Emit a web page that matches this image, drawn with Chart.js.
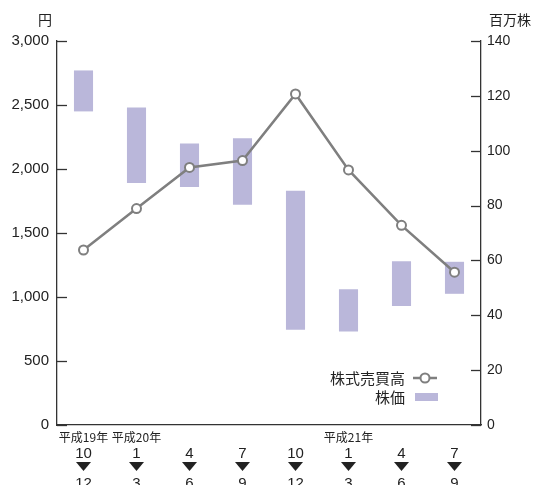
<!DOCTYPE html>
<html>
<head>
<meta charset="utf-8">
<script src="https://cdn.jsdelivr.net/npm/chart.js@4/dist/chart.umd.min.js"></script>
<style>
  html, body { margin: 0; padding: 0; background: #fff; }
  #wrap { width: 539px; height: 485px; position: relative; }
</style>
</head>
<body>
<div id="wrap"><canvas id="c" width="539" height="485"></canvas></div>
<script>
// Quarterly periods
const monthFrom = ['10', '1', '4', '7', '10', '1', '4', '7'];
const monthTo   = ['12', '3', '6', '9', '12', '3', '6', '9'];
const eraLabels = ['平成19年', '平成20年', '', '', '', '平成21年', '', ''];
const categories = monthFrom.map((m, i) => m + '-' + monthTo[i]);

// Stock price range per quarter (yen)
const priceHigh = [2770, 2480, 2200, 2240, 1830, 1060, 1280, 1275];
const priceLow  = [2450, 1890, 1860, 1720, 745, 730, 930, 1025];

// Trading volume (million shares)
const volume = [63.8, 78.9, 93.9, 96.4, 120.7, 93.0, 72.8, 55.7];

// Axis ticks
const priceTicks = [0, 500, 1000, 1500, 2000, 2500, 3000];
const volumeTicks = [0, 20, 40, 60, 80, 100, 120, 140];

const FONT = "'Liberation Sans', 'Noto Sans CJK JP', sans-serif";
const JP = "'Noto Sans CJK JP', sans-serif";
const BAR = '#bab7da';
const LINE = '#7f7f7f';
const AXIS = '#333333';

const decor = {
  id: 'decor',
  afterDraw(chart) {
    const ctx = chart.ctx;
    const y = chart.scales.y, y1 = chart.scales.y1, x = chart.scales.x;
    const area = chart.chartArea;
    ctx.save();
    // inward tick marks
    ctx.strokeStyle = AXIS;
    ctx.lineWidth = 1.3;
    priceTicks.forEach(v => {
      const py = Math.round(y.getPixelForValue(v)) + 0.5;
      ctx.beginPath(); ctx.moveTo(area.left, py); ctx.lineTo(area.left + 10, py); ctx.stroke();
    });
    volumeTicks.forEach(v => {
      const py = Math.round(y1.getPixelForValue(v)) + 0.5;
      ctx.beginPath(); ctx.moveTo(area.right - 10, py); ctx.lineTo(area.right, py); ctx.stroke();
    });

    // axis unit titles
    ctx.fillStyle = '#222';
    ctx.textBaseline = 'middle';
    ctx.font = '14px ' + JP;
    ctx.textAlign = 'center';
    ctx.fillText('円', 45, 20);
    ctx.fillText('百万株', 510, 20);

    // period labels below the axis
    categories.forEach((c, i) => {
      const px = x.getPixelForValue(i);
      if (eraLabels[i]) {
        ctx.font = '12px ' + JP;
        ctx.fillText(eraLabels[i], px, 437);
      }
      ctx.font = '15px ' + FONT;
      ctx.fillText(monthFrom[i], px, 454);
      ctx.beginPath();
      ctx.moveTo(px - 7.5, 462); ctx.lineTo(px + 7.5, 462); ctx.lineTo(px, 471); ctx.closePath();
      ctx.fill();
      ctx.fillText(monthTo[i], px, 484);
    });

    // legend
    ctx.font = '15px ' + JP;
    ctx.textAlign = 'right';
    ctx.fillText(chart.data.datasets[0].label, 405, 378);
    ctx.fillText(chart.data.datasets[1].label, 405, 397);
    ctx.strokeStyle = LINE;
    ctx.lineWidth = 2.5;
    ctx.beginPath(); ctx.moveTo(413, 378); ctx.lineTo(437, 378); ctx.stroke();
    ctx.beginPath(); ctx.arc(425, 378, 4.5, 0, Math.PI * 2);
    ctx.fillStyle = '#fff'; ctx.fill(); ctx.lineWidth = 2; ctx.stroke();
    ctx.fillStyle = BAR;
    ctx.fillRect(415, 393, 23, 8);
    ctx.restore();
  }
};

new Chart(document.getElementById('c'), {
  data: {
    labels: categories,
    datasets: [
      {
        type: 'line',
        label: '株式売買高',
        data: volume,
        yAxisID: 'y1',
        borderColor: LINE,
        borderWidth: 2.5,
        pointRadius: 4.5,
        pointBorderWidth: 2,
        pointBackgroundColor: '#fff',
        pointBorderColor: LINE,
        tension: 0,
        order: 0
      },
      {
        type: 'bar',
        label: '株価',
        data: priceLow.map((lo, i) => [lo, priceHigh[i]]),
        yAxisID: 'y',
        backgroundColor: BAR,
        borderWidth: 0,
        categoryPercentage: 1,
        barPercentage: 0.36,
        order: 1
      }
    ]
  },
  options: {
    responsive: false,
    animation: false,
    layout: { padding: { top: 41, left: 0, right: 0, bottom: 0 } },
    plugins: { legend: { display: false }, tooltip: { enabled: false } },
    scales: {
      x: {
        type: 'category',
        offset: true,
        ticks: { display: false },
        grid: { display: true, drawOnChartArea: false, drawTicks: false },
        border: { display: true, color: AXIS, width: 1.3 },
        afterFit(s) { s.height = 60; }
      },
      y: {
        position: 'left',
        min: 0, max: 3000,
        afterBuildTicks(s) { s.ticks = priceTicks.map(v => ({ value: v })); },
        ticks: {
          padding: 8,
          color: '#222',
          font: { family: FONT, size: 15 },
          callback: v => v.toLocaleString('en-US')
        },
        grid: { display: true, drawOnChartArea: false, drawTicks: false },
        border: { display: true, color: AXIS, width: 1.3 },
        afterFit(s) { s.width = 57; }
      },
      y1: {
        position: 'right',
        min: 0, max: 140,
        afterBuildTicks(s) { s.ticks = volumeTicks.map(v => ({ value: v })); },
        ticks: {
          padding: 6,
          color: '#222',
          font: { family: FONT, size: 14 }
        },
        grid: { display: true, drawOnChartArea: false, drawTicks: false },
        border: { display: true, color: AXIS, width: 1.3 },
        afterFit(s) { s.width = 58; }
      }
    }
  },
  plugins: [decor]
});
</script>
</body>
</html>
